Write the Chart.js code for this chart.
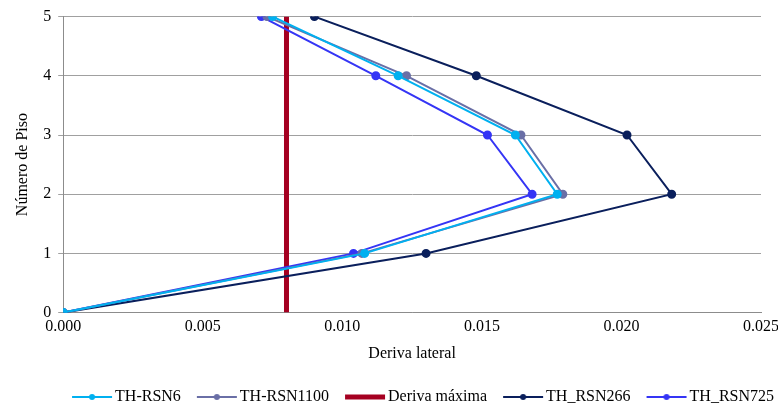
<!DOCTYPE html>
<html>
<head>
<meta charset="utf-8">
<script src="https://cdn.jsdelivr.net/npm/chart.js@4"></script>
<style>
  html, body { margin: 0; padding: 0; background: #fff; }
  #wrap { width: 778px; height: 404px; }
</style>
</head>
<body>
<div id="wrap"><canvas id="chart"></canvas></div>
<script>
const pisos = [0, 1, 2, 3, 4, 5];
const rsn6 = [0, 0.0108, 0.0177, 0.0162, 0.0120, 0.0075];
const rsn1100 = [0, 0.0107, 0.0179, 0.0164, 0.0123, 0.0073];
const rsn266 = [0, 0.0130, 0.0218, 0.0202, 0.0148, 0.0090];
const rsn725 = [0, 0.0104, 0.0168, 0.0152, 0.0112, 0.0071];
const derivaMax = 0.008;
const xTicks = [0, 0.005, 0.010, 0.015, 0.020, 0.025];

const serif = "'Liberation Serif', 'DejaVu Serif', serif";

// legend geometry: padding between items, box width, marker offset inside box
const legPad = 4;
const legFont = 16;
const legBox = 51 - legPad;
const markStart = 16 - legPad;
const markLen = 40;

function pts(xs) {
  return xs.map((x, i) => ({ x, y: pisos[i] }));
}

// legend marker image, centred on the legend box by Chart.js
function marker(color, dot, width) {
  const centre = legBox / 2;
  const half = Math.max(centre - markStart, markStart + markLen - centre) + 1;
  const c = document.createElement("canvas");
  c.width = Math.ceil(half * 2);
  c.height = 10;
  const off = c.width / 2 - centre;
  const g = c.getContext("2d");
  g.strokeStyle = color;
  g.lineWidth = width;
  g.beginPath();
  g.moveTo(off + markStart, 5);
  g.lineTo(off + markStart + markLen, 5);
  g.stroke();
  if (dot) {
    g.fillStyle = color;
    g.beginPath();
    g.arc(off + markStart + markLen / 2, 5, 3, 0, Math.PI * 2);
    g.fill();
  }
  return c;
}

function series(label, data, color) {
  return {
    label,
    data: pts(data),
    showLine: true,
    borderColor: color,
    backgroundColor: color,
    borderWidth: 2,
    pointRadius: 3.5,
    pointHoverRadius: 3.5,
    pointStyle: "circle",
    legendMarker: marker(color, true, 2),
  };
}

const datasets = [
  series("TH-RSN6", rsn6, "#00b0f0"),
  series("TH-RSN1100", rsn1100, "#6a6fa6"),
  {
    label: "Deriva máxima",
    data: [{ x: derivaMax, y: 0 }, { x: derivaMax, y: 5 }],
    showLine: true,
    borderColor: "#a50021",
    backgroundColor: "#a50021",
    borderWidth: 5,
    pointRadius: 0,
    legendMarker: marker("#a50021", false, 5),
    order: 5,
  },
  series("TH_RSN266", rsn266, "#0a1f5c"),
  series("TH_RSN725", rsn725, "#3535f5"),
];

new Chart(document.getElementById("chart"), {
  type: "scatter",
  data: { datasets },
  options: {
    responsive: true,
    maintainAspectRatio: false,
    animation: false,
    layout: { padding: { left: 13, right: 0, top: 9, bottom: -11 } },
    plugins: {
      tooltip: { enabled: false },
      legend: {
        position: "bottom",
        align: "end",
        labels: {
          font: { family: serif, size: legFont },
          color: "#000",
          usePointStyle: true,
          pointStyleWidth: legBox,
          boxHeight: 10,
          padding: legPad,
          sort: (a, b) => a.datasetIndex - b.datasetIndex,
          generateLabels: (chart) =>
            chart.data.datasets.map((ds, i) => ({
              text: ds.label,
              pointStyle: ds.legendMarker,
              datasetIndex: i,
              fontColor: "#000",
              hidden: false,
              lineWidth: 0,
            })),
        },
      },
    },
    scales: {
      x: {
        type: "linear",
        min: 0,
        max: 0.025,
        afterBuildTicks: (axis) => {
          axis.ticks = xTicks.map((v) => ({ value: v }));
        },
        afterFit: (axis) => {
          axis.paddingRight = 17;
        },
        ticks: {
          font: { family: serif, size: 16 },
          color: "#000",
          callback: (v) => v.toFixed(3),
          maxRotation: 0,
          padding: 5,
        },
        grid: { display: false, drawTicks: false },
        border: { color: "#8c8c8c" },
        title: {
          display: true,
          text: "Deriva lateral",
          font: { family: serif, size: 16 },
          color: "#000",
          padding: { top: 2, bottom: 22 },
        },
      },
      y: {
        min: 0,
        max: 5,
        ticks: {
          stepSize: 1,
          font: { family: serif, size: 16 },
          color: "#000",
          padding: 7,
        },
        grid: { color: "#a0a0a0", tickLength: 5 },
        border: { color: "#8c8c8c" },
        title: {
          display: true,
          text: "Número de Piso",
          font: { family: serif, size: 16 },
          color: "#000",
          padding: { top: 0, bottom: 4 },
        },
      },
    },
  },
});
</script>
</body>
</html>
